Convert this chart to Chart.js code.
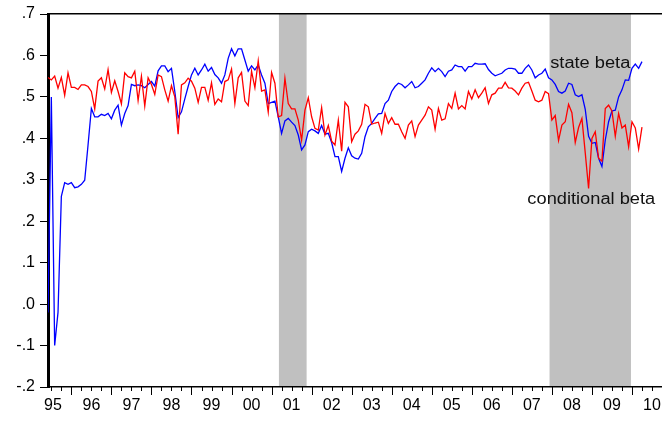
<!DOCTYPE html>
<html>
<head>
<meta charset="utf-8">
<script src="https://cdn.jsdelivr.net/npm/chart.js@4/dist/chart.umd.min.js"></script>
<style>
  html, body { margin: 0; padding: 0; background: #fff; }
  #wrap { width: 662px; height: 421px; position: relative; }
</style>
</head>
<body>
<div id="wrap"><canvas id="chart"></canvas></div>
<script>
// monthly observations, index 0 = June 1995
const conditionalBeta = [
  0.547, 0.541, 0.550, 0.521, 0.547, 0.504, 0.558, 0.523, 0.523, 0.518,
  0.529, 0.529, 0.525, 0.513, 0.471, 0.538, 0.546, 0.519, 0.566, 0.511,
  0.539, 0.513, 0.483, 0.558, 0.549, 0.546, 0.562, 0.491, 0.550, 0.478,
  0.546, 0.530, 0.506, 0.553, 0.549, 0.517, 0.490, 0.527, 0.500, 0.410,
  0.529, 0.534, 0.545, 0.538, 0.521, 0.487, 0.523, 0.523, 0.492, 0.534,
  0.482, 0.495, 0.488, 0.537, 0.541, 0.567, 0.484, 0.546, 0.559, 0.490,
  0.479, 0.562, 0.522, 0.587, 0.514, 0.517, 0.463, 0.559, 0.533, 0.452,
  0.455, 0.545, 0.484, 0.471, 0.471, 0.444, 0.396, 0.468, 0.498, 0.452,
  0.424, 0.420, 0.474, 0.408, 0.431, 0.393, 0.384, 0.444, 0.369, 0.487,
  0.476, 0.392, 0.410, 0.418, 0.434, 0.482, 0.476, 0.434, 0.437, 0.439,
  0.412, 0.460, 0.436, 0.450, 0.434, 0.434, 0.416, 0.400, 0.432, 0.442,
  0.404, 0.432, 0.444, 0.456, 0.476, 0.468, 0.422, 0.472, 0.444, 0.447,
  0.484, 0.472, 0.509, 0.471, 0.479, 0.471, 0.513, 0.495, 0.517, 0.498,
  0.509, 0.522, 0.484, 0.505, 0.509, 0.521, 0.521, 0.535, 0.522, 0.521,
  0.514, 0.505, 0.521, 0.533, 0.535, 0.514, 0.492, 0.488, 0.492, 0.513,
  0.508, 0.444, 0.455, 0.395, 0.432, 0.440, 0.482, 0.462, 0.390, 0.426,
  0.448, 0.365, 0.279, 0.400, 0.416, 0.352, 0.345, 0.472, 0.480, 0.466,
  0.405, 0.460, 0.425, 0.432, 0.380, 0.440, 0.425, 0.374, 0.427
];
const stateBeta = [
  -0.020, 0.500, -0.100, -0.020, 0.260, 0.293, 0.289, 0.293, 0.281, 0.283,
  0.289, 0.299, 0.384, 0.472, 0.452, 0.452, 0.458, 0.455, 0.460, 0.447,
  0.468, 0.480, 0.432, 0.460, 0.479, 0.530, 0.527, 0.529, 0.527, 0.522,
  0.530, 0.537, 0.526, 0.563, 0.575, 0.575, 0.561, 0.569, 0.513, 0.450,
  0.464, 0.495, 0.525, 0.553, 0.569, 0.553, 0.565, 0.579, 0.562, 0.571,
  0.554, 0.546, 0.533, 0.553, 0.593, 0.616, 0.599, 0.616, 0.616, 0.589,
  0.562, 0.575, 0.565, 0.577, 0.553, 0.533, 0.484, 0.487, 0.490, 0.452,
  0.412, 0.442, 0.448, 0.439, 0.431, 0.408, 0.372, 0.384, 0.416, 0.422,
  0.418, 0.412, 0.431, 0.410, 0.412, 0.390, 0.356, 0.356, 0.320, 0.352,
  0.377, 0.358, 0.352, 0.350, 0.364, 0.404, 0.428, 0.436, 0.448, 0.459,
  0.460, 0.484, 0.492, 0.513, 0.525, 0.533, 0.530, 0.522, 0.529, 0.537,
  0.522, 0.525, 0.533, 0.541, 0.557, 0.570, 0.561, 0.569, 0.561, 0.549,
  0.562, 0.565, 0.577, 0.573, 0.573, 0.562, 0.573, 0.573, 0.581, 0.579,
  0.579, 0.580, 0.566, 0.557, 0.551, 0.554, 0.557, 0.565, 0.569, 0.569,
  0.567, 0.557, 0.557, 0.569, 0.577, 0.565, 0.546, 0.553, 0.557, 0.567,
  0.546, 0.541, 0.530, 0.513, 0.509, 0.514, 0.533, 0.530, 0.505, 0.501,
  0.505, 0.470, 0.405, 0.388, 0.390, 0.352, 0.332, 0.396, 0.440, 0.466,
  0.468, 0.500, 0.517, 0.541, 0.540, 0.569, 0.579, 0.569, 0.585
];
const yearLabels = ['95','96','97','98','99','00','01','02','03','04','05','06','07','08','09','10'];
const yTicks = [-0.2, -0.1, 0, 0.1, 0.2, 0.3, 0.4, 0.5, 0.6, 0.7];
// shaded recessions, in months from June 1995
const recessions = [[69.2, 77.5], [150.3, 174.7]];

const xMax = 184;
const FONT = '"Liberation Sans", Arial, sans-serif';
Chart.defaults.font.family = FONT;
Chart.defaults.color = '#000';

const toPoints = arr => arr.map((v, i) => ({x: i, y: v}));
const fmt = v => v.toFixed(1).replace('0.', '.');

// series names written next to the lines
const seriesNotes = [
  {text: 'state beta', x: 150.5, y: 0.570, align: 'left'},
  {text: 'conditional beta', x: 162.8, y: 0.2415, align: 'center'}
];

const shading = {
  id: 'shading',
  beforeDraw(chart) {
    const {ctx, chartArea: a, scales: {x}} = chart;
    ctx.save();
    ctx.fillStyle = '#c0c0c0';
    recessions.forEach(([s, e]) => {
      const x0 = x.getPixelForValue(s), x1 = x.getPixelForValue(e);
      ctx.fillRect(x0, a.top, x1 - x0, a.bottom - a.top);
    });
    ctx.restore();
  }
};

const quarterTicks = {
  id: 'quarterTicks',
  afterDraw(chart) {
    const {ctx, chartArea: a, scales: {x}} = chart;
    ctx.save();
    ctx.strokeStyle = '#000';
    ctx.lineWidth = 1;
    for (let i = 1; i <= xMax; i += 3) {
      const px = Math.round(x.getPixelForValue(i)) + 0.5;
      const len = (i - 7) % 12 === 0 ? 8 : 4;
      ctx.beginPath();
      ctx.moveTo(px, a.bottom);
      ctx.lineTo(px, a.bottom + len);
      ctx.stroke();
    }
    ctx.restore();
  }
};

// the original text is a bit wider than Arial, stretch it slightly
const notes = {
  id: 'notes',
  afterDatasetsDraw(chart) {
    const {ctx, scales: {x, y}} = chart;
    const sx = 1.14;
    ctx.save();
    ctx.font = '16px ' + FONT;
    ctx.fillStyle = '#111';
    ctx.textBaseline = 'alphabetic';
    seriesNotes.forEach(n => {
      ctx.save();
      ctx.translate(x.getPixelForValue(n.x), y.getPixelForValue(n.y));
      ctx.scale(sx, 1);
      ctx.textAlign = n.align;
      ctx.fillText(n.text, 0, 0);
      ctx.restore();
    });
    ctx.restore();
  }
};

new Chart(document.getElementById('chart'), {
  type: 'line',
  data: {
    datasets: [
      {
        label: 'conditional beta',
        data: toPoints(conditionalBeta),
        borderColor: '#ff0000',
        borderWidth: 1.3,
        pointRadius: 0,
        tension: 0
      },
      {
        label: 'state beta',
        data: toPoints(stateBeta),
        borderColor: '#0000ff',
        borderWidth: 1.3,
        pointRadius: 0,
        tension: 0
      }
    ]
  },
  options: {
    responsive: true,
    maintainAspectRatio: false,
    animation: false,
    layout: {padding: 0},
    plugins: {legend: {display: false}, tooltip: {enabled: false}},
    scales: {
      x: {
        type: 'linear',
        min: 0,
        max: xMax,
        afterFit: s => { s.height = 34; s.paddingLeft = 0; s.paddingRight = 0; },
        afterBuildTicks: s => {
          s.ticks = yearLabels.map((t, k) => ({value: k === 0 ? 1.5 : 1 + 12 * k}));
        },
        ticks: {
          autoSkip: false,
          maxRotation: 0,
          padding: 9,
          font: {size: 16},
          callback: (v, idx) => yearLabels[idx]
        },
        grid: {drawOnChartArea: false, drawTicks: false},
        border: {color: '#000', width: 1.5}
      },
      xTop: {
        type: 'linear',
        position: 'top',
        min: 0,
        max: xMax,
        afterFit: s => { s.height = 14; s.paddingLeft = 0; s.paddingRight = 0; },
        ticks: {display: false},
        grid: {display: false, drawTicks: false},
        border: {color: '#000', width: 1.5}
      },
      y: {
        min: -0.2,
        max: 0.7,
        afterFit: s => { s.width = 48; s.paddingTop = 0; s.paddingBottom = 0; },
        afterBuildTicks: s => { s.ticks = yTicks.map(v => ({value: v})); },
        ticks: {padding: 5, font: {size: 16}, callback: v => fmt(v)},
        grid: {drawOnChartArea: false, tickLength: 8, color: '#000'},
        border: {color: '#000', width: 3}
      }
    }
  },
  plugins: [shading, quarterTicks, notes]
});
</script>
</body>
</html>
